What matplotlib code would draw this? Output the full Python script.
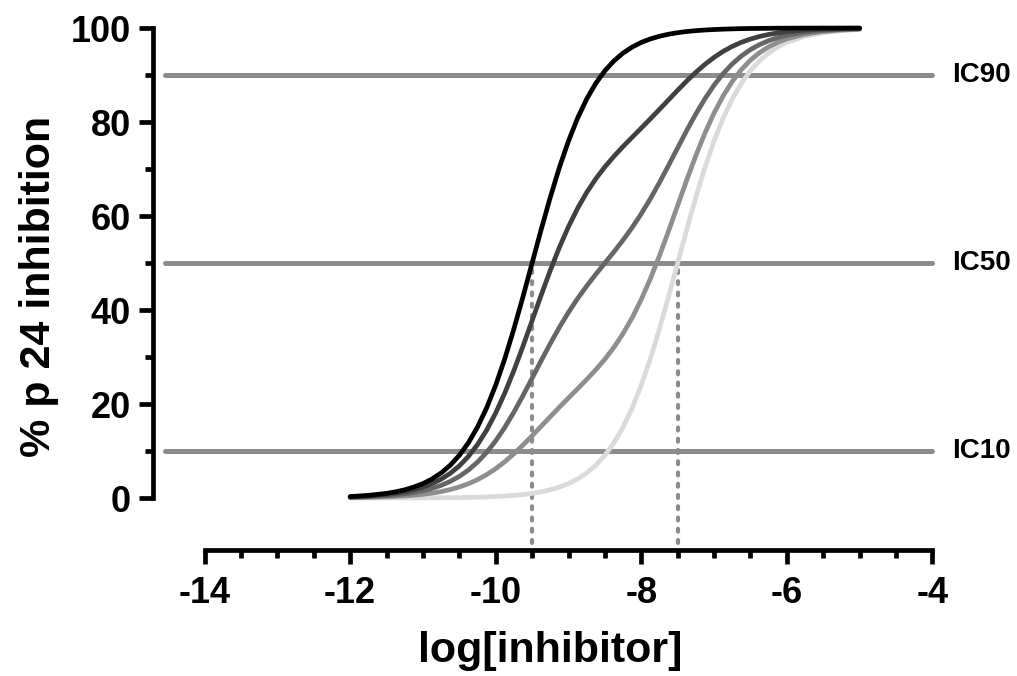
import numpy as np
import matplotlib
matplotlib.use('Agg')
import matplotlib.pyplot as plt

plt.rcParams['font.family'] = ['Liberation Sans', 'DejaVu Sans']
plt.rcParams['font.weight'] = 'bold'

# log[inhibitor] sample positions
log_conc = [-12.0, -11.75, -11.5, -11.375, -11.25, -11.125, -11.0, -10.875,
            -10.75, -10.625, -10.5, -10.375, -10.25, -10.125, -10.0, -9.875,
            -9.75, -9.625, -9.5, -9.375, -9.25, -9.125, -9.0, -8.875, -8.75,
            -8.625, -8.5, -8.375, -8.25, -8.125, -8.0, -7.875, -7.75, -7.625,
            -7.5, -7.375, -7.25, -7.125, -7.0, -6.875, -6.75, -6.625, -6.5,
            -6.375, -6.25, -6.125, -6.0, -5.75, -5.5, -5.25, -5.0]

# % p24 inhibition, darkest to lightest curve
curve_black = [0.32, 0.56, 0.99, 1.32, 1.75, 2.32, 3.07, 4.05, 5.33, 6.98, 9.09,
               11.77, 15.10, 19.17, 24.03, 29.66, 36.00, 42.85, 50.00, 57.15,
               64.00, 70.34, 75.97, 80.83, 84.90, 88.23, 90.91, 93.02, 94.68,
               95.95, 96.94, 97.68, 98.25, 98.68, 99.01, 99.26, 99.44, 99.58,
               99.68, 99.76, 99.82, 99.87, 99.90, 99.92, 99.94, 99.96, 99.97,
               99.98, 99.99, 99.99, 100.0]
curve_dark = [0.24, 0.42, 0.75, 0.99, 1.32, 1.74, 2.31, 3.05, 4.01, 5.25, 6.84,
              8.86, 11.37, 14.44, 18.10, 22.35, 27.14, 32.32, 37.75, 43.19,
              48.44, 53.33, 57.74, 61.63, 65.01, 67.92, 70.46, 72.71, 74.79,
              76.76, 78.71, 80.68, 82.69, 84.72, 86.76, 88.73, 90.58, 92.27,
              93.75, 95.03, 96.09, 96.96, 97.65, 98.20, 98.63, 98.96, 99.21,
              99.55, 99.75, 99.85, 99.92]
curve_mid = [0.16, 0.28, 0.50, 0.67, 0.88, 1.17, 1.55, 2.04, 2.69, 3.53, 4.60,
             5.95, 7.64, 9.70, 12.17, 15.04, 18.28, 21.80, 25.50, 29.23, 32.87,
             36.33, 39.52, 42.44, 45.11, 47.60, 50.00, 52.40, 54.89, 57.56,
             60.49, 63.67, 67.13, 70.77, 74.51, 78.21, 81.72, 84.96, 87.83,
             90.30, 92.36, 94.05, 95.41, 96.47, 97.31, 97.96, 98.46, 99.12,
             99.50, 99.72, 99.84]
curve_grey = [0.08, 0.14, 0.26, 0.34, 0.45, 0.60, 0.79, 1.04, 1.37, 1.80, 2.35,
              3.04, 3.91, 4.97, 6.24, 7.73, 9.42, 11.27, 13.24, 15.27, 17.31,
              19.32, 21.29, 23.24, 25.22, 27.29, 29.55, 32.08, 35.00, 38.37,
              42.26, 46.67, 51.56, 56.81, 62.25, 67.68, 72.86, 77.65, 81.90,
              85.56, 88.63, 91.14, 93.16, 94.75, 95.99, 96.95, 97.70, 98.68,
              99.26, 99.58, 99.76]
curve_light = [0.00, 0.01, 0.01, 0.01, 0.02, 0.02, 0.03, 0.04, 0.06, 0.08, 0.10,
               0.13, 0.18, 0.24, 0.32, 0.42, 0.56, 0.74, 0.99, 1.32, 1.75, 2.32,
               3.07, 4.05, 5.33, 6.98, 9.09, 11.77, 15.10, 19.17, 24.03, 29.66,
               36.00, 42.85, 50.00, 57.15, 64.00, 70.34, 75.97, 80.83, 84.90,
               88.23, 90.91, 93.02, 94.68, 95.95, 96.94, 98.25, 99.01, 99.44,
               99.68]

curves = [curve_light, curve_grey, curve_mid, curve_dark, curve_black]
colors = ['#dadada', '#8e8e8e', '#666666', '#404040', '#000000']

ic_levels = [10, 50, 90]
ic_labels = ['IC10', 'IC50', 'IC90']
ic50_marks = [-9.5, -7.5]
xtick_vals = [-14, -12, -10, -8, -6, -4]
ytick_vals = [0, 20, 40, 60, 80, 100]

fig = plt.figure(figsize=(10.17, 6.76), dpi=100)
ax = fig.add_axes([0.1504, 0.1864, 0.7807, 0.7791])
ax.set_xlim(-14.71, -3.8)
ax.set_ylim(-11.06, 101)

# reference IC lines
for lev, lab in zip(ic_levels, ic_labels):
    ax.plot([-14.55, -4.0], [lev, lev], color='#8c8c8c', lw=3.6,
            solid_capstyle='round', zorder=1)
    ax.text(-3.73, lev, lab, fontsize=20, fontweight='bold',
            ha='left', va='center', clip_on=False)

# dashed drop lines from IC50
for xm in ic50_marks:
    ax.plot([xm, xm], [48.5, -11.06], color='#8c8c8c', lw=3.0,
            linestyle=(0, (0.7, 2.0)), dash_capstyle='round', zorder=1)

for y, c in zip(curves, colors):
    ax.plot(log_conc, y, color=c, lw=3.4, solid_capstyle='round',
            solid_joinstyle='round', zorder=2)

# prism-like axes
for s in ['top', 'right']:
    ax.spines[s].set_visible(False)
ax.spines['left'].set_bounds(0, 100)
ax.spines['bottom'].set_bounds(-14, -4)
ax.spines['left'].set_linewidth(3.4)
ax.spines['bottom'].set_linewidth(3.4)
ax.spines['left'].set_capstyle('projecting')
ax.spines['bottom'].set_capstyle('projecting')

ax.set_xticks(xtick_vals)
ax.set_xticks(np.arange(-14, -3.9, 0.5), minor=True)
ax.set_yticks(ytick_vals)
ax.set_yticks(np.arange(0, 101, 10), minor=True)
ax.tick_params(which='major', length=10, width=3.4, labelsize=26)
ax.tick_params(axis='x', which='major', pad=9)
ax.tick_params(axis='y', which='major', pad=6)
ax.tick_params(which='minor', length=6, width=3.4)
ax.set_xticklabels([str(v) for v in xtick_vals])
ax.set_yticklabels([str(v) for v in ytick_vals])
for lbl in ax.get_xticklabels() + ax.get_yticklabels():
    lbl.set_fontweight('bold')

ax.set_xlabel('log[inhibitor]', fontsize=31, fontweight='bold', labelpad=14)
ax.set_ylabel('% p 24 inhibition', fontsize=31, fontweight='bold', labelpad=8)

fig.savefig('out.png', dpi=100)
